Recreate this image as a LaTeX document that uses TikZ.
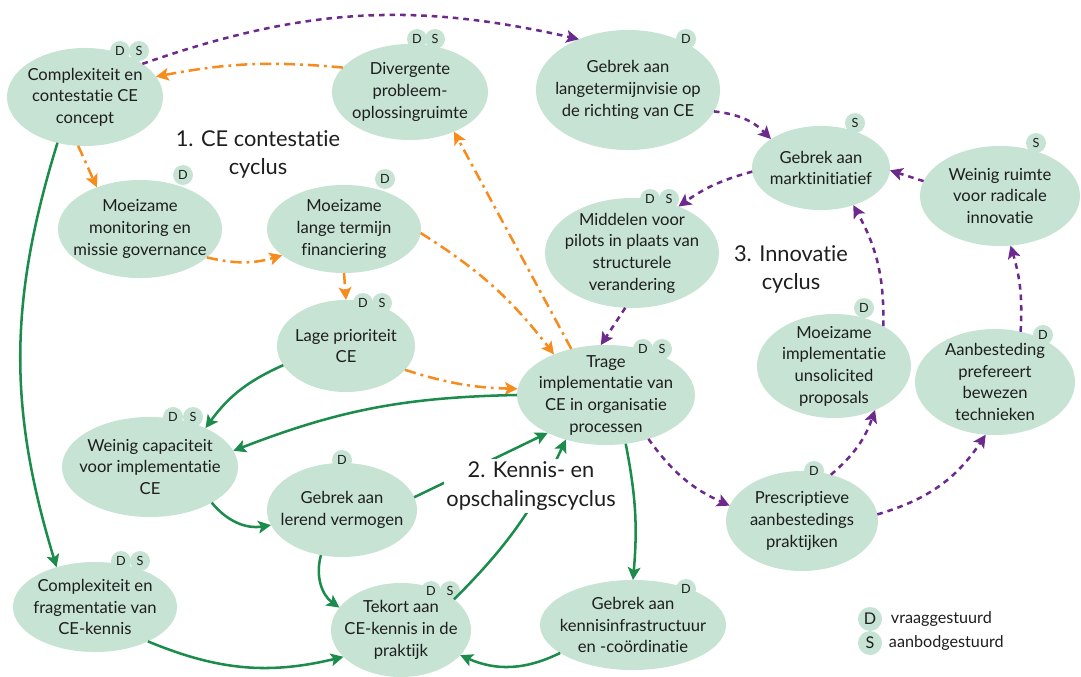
\documentclass[tikz,border=0pt]{standalone}
\usepackage{fontspec}
\setmainfont[Ligatures=NoCommon]{Lato}
\usetikzlibrary{shapes.geometric,arrows.meta}

\definecolor{mint}{RGB}{198,227,212}
\definecolor{orng}{RGB}{247,140,30}
\definecolor{purp}{RGB}{108,42,140}
\definecolor{grn}{RGB}{28,140,76}
\definecolor{ink}{RGB}{30,30,30}

\tikzset{
  blob/.style={ellipse, fill=mint, inner sep=-2cm, outer sep=0pt, align=center,
    text=ink, font=\fontsize{11.8}{15.4}\selectfont},
  badge/.style={circle, fill=mint, minimum size=0.5cm, inner sep=0pt, text=ink,
    font=\fontsize{9}{9}\selectfont},
  cyc/.style={align=center, text=ink, font=\fontsize{15.5}{20}\selectfont},
  tip/.style={-{Stealth[length=9pt,width=9pt,inset=2pt]}},
  contest/.style={tip, draw=orng, line width=1.8pt, dash pattern=on 8pt off 3.5pt on 2pt off 3.5pt},
  innov/.style={tip, draw=purp, line width=1.8pt, dash pattern=on 4pt off 3.5pt},
  kennis/.style={tip, draw=grn, line width=1.8pt}
}

\begin{document}
\begin{tikzpicture}[x=0.025cm,y=-0.025cm]
\useasboundingbox (0,0) rectangle (1081,677);

% problemen
\node[blob, minimum width=3.9cm, minimum height=2.45cm] (cplx) at (85,97) {Complexiteit en\\contestatie CE\\concept};
\node[blob, minimum width=3.9cm, minimum height=2.4cm] (diverg) at (410,92) {Divergente\\probleem-\\oplossingruimte};
\node[blob, minimum width=4.6cm, minimum height=3cm] (visie) at (628,90) {Gebrek aan\\langetermijnvisie op\\de richting van CE};
\node[blob, minimum width=3.45cm, minimum height=2.1cm] (markt) at (821,168) {Gebrek aan\\marktinitiatief};
\node[blob, minimum width=4cm, minimum height=2.5cm] (ruimte) at (1000,196) {Weinig ruimte\\voor radicale\\innovatie};
\node[blob, minimum width=4.1cm, minimum height=2.45cm] (monit) at (140,229) {Moeizame\\monitoring en\\missie governance};
\node[blob, minimum width=3.85cm, minimum height=2.2cm] (financ) at (344,229) {Moeizame\\lange termijn\\financiering};
\node[blob, minimum width=3.45cm, minimum height=2.3cm] (prior) at (346,346) {Lage prioriteit\\CE};
\node[blob, minimum width=4.4cm, minimum height=2.5cm] (capac) at (150,467) {Weinig capaciteit\\voor implementatie\\CE};
\node[blob, minimum width=3.75cm, minimum height=2.35cm] (lerend) at (342,510) {Gebrek aan\\lerend vermogen};
\node[blob, minimum width=4.35cm, minimum height=2.75cm] (pilots) at (632,253) {Middelen voor\\pilots in plaats van\\structurele\\verandering};
\node[blob, minimum width=4.45cm, minimum height=2.5cm] (trage) at (606,395) {Trage\\implementatie van\\CE in organisatie\\processen};
\node[blob, minimum width=3.85cm, minimum height=2.6cm] (unsol) at (834,366) {Moeizame\\implementatie\\unsolicited\\proposals};
\node[blob, minimum width=4cm, minimum height=2.65cm] (aanbest) at (995,382) {Aanbesteding\\prefereert\\bewezen\\technieken};
\node[blob, minimum width=3.8cm, minimum height=2.5cm] (prescr) at (802,521) {Prescriptieve\\aanbestedings\\praktijken};
\node[blob, minimum width=4.1cm, minimum height=2.25cm] (fragm) at (95,607) {Complexiteit en\\fragmentatie van\\CE-kennis};
\node[blob, minimum width=3.5cm, minimum height=2.35cm] (tekort) at (401,630) {Tekort aan\\CE-kennis in de\\praktijk};
\node[blob, minimum width=4.65cm, minimum height=2.25cm] (infra) at (633,625) {Gebrek aan\\kennisinfrastructuur\\en -coördinatie};

% D/S bolletjes
\node[badge] (cplxD) at (120,51) {D};
\node[badge] (cplxS) at (139,51) {S};
\node[badge] (divergD) at (417,39) {D};
\node[badge] (divergS) at (435,39) {S};
\node[badge] (visieD) at (686,39) {D};
\node[badge] (marktS) at (855,123) {S};
\node[badge] (ruimteS) at (1036,143) {S};
\node[badge] (monitD) at (183,175) {D};
\node[badge] (financD) at (385,179) {D};
\node[badge] (priorD) at (363,303) {D};
\node[badge] (priorS) at (382,303) {S};
\node[badge] (capacD) at (173,417) {D};
\node[badge] (capacS) at (193,417) {S};
\node[badge] (lerendD) at (342,460) {D};
\node[badge] (pilotsD) at (650,199) {D};
\node[badge] (pilotsS) at (669,199) {S};
\node[badge] (trageD) at (643,349) {D};
\node[badge] (trageS) at (662,349) {S};
\node[badge] (unsolD) at (864,308) {D};
\node[badge] (aanbestD) at (1043,335) {D};
\node[badge] (prescrD) at (814,471) {D};
\node[badge] (fragmD) at (121,561) {D};
\node[badge] (fragmS) at (140,561) {S};
\node[badge] (tekortD) at (431,591) {D};
\node[badge] (tekortS) at (450,591) {S};
\node[badge] (infraD) at (686,589) {D};

% 1. CE contestatie cyclus
\draw[contest] (diverg.160) to[bend right=8] (cplx.16);
\draw[contest] (cplx.-98) -- (monit.136);
\draw[contest] (monit.-23) to[bend right=15] (financ.-157);
\draw[contest] (financ.-90) -- (prior.90);
\draw[contest] (financ.-3) to[bend left=10] (trage.142);
\draw[contest] (trage.127) -- (diverg.-42);
\draw[contest] (prior.-22) to[bend right=8] (trage.176);

% 3. Innovatie cyclus
\draw[innov] (cplx.30) to[bend left=16] (visie.134);
\draw[innov] (visie.-14) to[bend left=20] (markt.150);
\draw[innov] (ruimte.169) -- (markt.-2);
\draw[innov] (markt.183) to[bend right=10] (pilots.45);
\draw[innov] (pilots.-97) -- (trage.96);
\draw[innov] (trage.-46) to[bend right=15] (prescr.168);
\draw[innov] (prescr.58) to[bend right=15] (unsol.-47);
\draw[innov] (prescr.5) to[bend right=20] (aanbest.-100);
\draw[innov] (unsol.39) to[bend right=15] (markt.-49);
\draw[innov] (aanbest.63) to[bend right=10] (ruimte.-78);

% 2. Kennis- en opschalingscyclus
\draw[kennis] (cplx.-121) to[bend right=17] (fragm.134);
\draw[kennis] (prior.-163) to[bend right=15] (capac.35);
\draw[kennis] (trage.180) to[bend right=10] (capac.11);
\draw[kennis] (capac.-30) to[bend right=30] (lerend.192);
\draw[kennis] (lerend.10) -- (trage.-147);
\draw[kennis] (lerend.-115) to[bend right=35] (tekort.160);
\draw[kennis] (tekort.30) to[bend right=10] (trage.-132);
\draw[kennis] (trage.-68) to[bend left=8] (infra.90);
\draw[kennis] (infra.201) to[bend left=25] (tekort.-23);
\draw[kennis] (fragm.-33) to[bend right=18] (tekort.-155);

% cyclusnamen
\node[cyc] (cyc1) at (258,154) {1. CE contestatie\\cyclus};
\node[cyc] (cyc3) at (791,269) {3. Innovatie\\cyclus};
\node[cyc, fill=white, inner sep=2pt] (cyc2) at (531,486) {2. Kennis- en\\opschalingscyclus};

% legenda
\node[badge, minimum size=0.6cm, font=\fontsize{11.5}{12}\selectfont] (legD) at (870,619) {D};
\node[badge, minimum size=0.6cm, font=\fontsize{11.5}{12}\selectfont] (legS) at (870,643) {S};
\node[anchor=west, text=ink, font=\fontsize{11.5}{12}\selectfont] (legDtxt) at (886,619) {vraaggestuurd};
\node[anchor=west, text=ink, font=\fontsize{11.5}{12}\selectfont] (legStxt) at (884,643) {aanbodgestuurd};
\end{tikzpicture}
\end{document}
